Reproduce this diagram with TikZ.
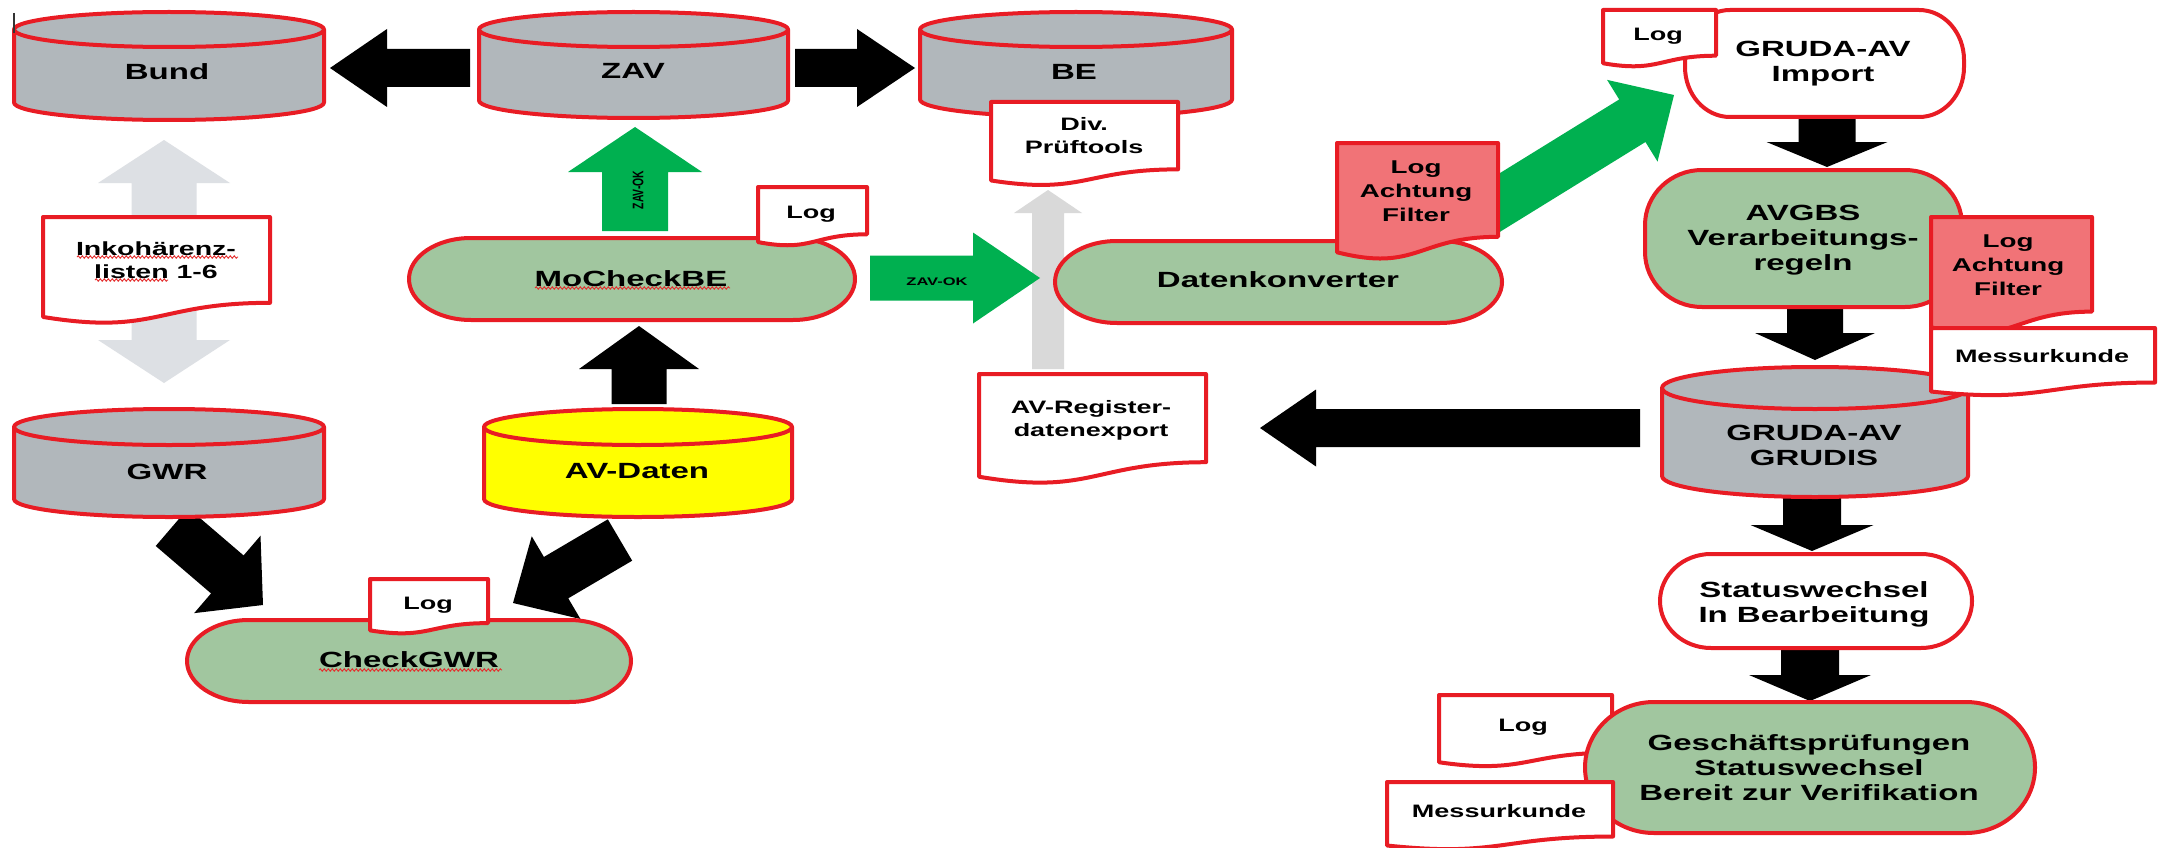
\documentclass[tikz,border=0pt]{standalone}
\usepackage{fontspec}
\setmainfont{Liberation Sans}[FakeStretch=1.5]
\newfontfamily\plainsans{Liberation Sans}
\usetikzlibrary{calc,decorations.pathmorphing}

\definecolor{redline}{RGB}{232,28,36}
\definecolor{cylgray}{RGB}{177,183,187}
\definecolor{termgreen}{RGB}{161,198,159}
\definecolor{arrowgreen}{RGB}{0,176,80}
\definecolor{pinkred}{RGB}{241,115,119}
\definecolor{lgrayA}{RGB}{221,224,228}
\definecolor{lgrayB}{RGB}{217,217,217}
\definecolor{avyellow}{RGB}{255,255,0}
\definecolor{squigred}{RGB}{228,45,45}

\tikzset{
  outl/.style={draw=redline, line width=4pt, line join=round},
  lab/.style={font=\bfseries\fontsize{22}{25}\selectfont, align=center, inner sep=0pt},
  doclab/.style={font=\bfseries\fontsize{18}{23}\selectfont, align=center, inner sep=0pt},
  squig/.style={draw=squigred, line width=0.9pt, decorate,
    decoration={snake, amplitude=1.2pt, segment length=4pt}},
}

% cylinder: fill, x1, x2, ytop, ybottom, ry
\newcommand{\mycyl}[6]{%
  \pgfmathsetmacro\cyrx{(#3-#2)/2}%
  \pgfmathsetmacro\cya{#4+#6}%
  \pgfmathsetmacro\cyb{#5-#6}%
  \filldraw[outl, fill=#1] (#2,\cya) -- (#2,\cyb)
    arc[start angle=180, end angle=0, x radius=\cyrx, y radius=#6]
    -- (#3,\cya)
    arc[start angle=0, end angle=-180, x radius=\cyrx, y radius=#6] -- cycle;
  \draw[outl] (#2,\cya) arc[start angle=180, end angle=0, x radius=\cyrx, y radius=#6];
}
% terminal: fill, x1, y1, x2, y2, rx, ry
\newcommand{\myterm}[7]{%
  \filldraw[outl, fill=#1] (#2+#6,#3) -- (#4-#6,#3)
    arc[start angle=-90, end angle=0, x radius=#6, y radius=#7]
    -- (#4,#5-#7)
    arc[start angle=0, end angle=90, x radius=#6, y radius=#7]
    -- (#2+#6,#5)
    arc[start angle=90, end angle=180, x radius=#6, y radius=#7]
    -- (#2,#3+#7)
    arc[start angle=180, end angle=270, x radius=#6, y radius=#7] -- cycle;
}
% document: fill, x1, y1, x2, h
\newcommand{\mydoc}[5]{%
  \pgfmathsetmacro\dxm{(#2+#4)/2}%
  \pgfmathsetmacro\dyr{#3+0.802*#5}%
  \pgfmathsetmacro\dyc{#3+1.1075*#5}%
  \pgfmathsetmacro\dyl{#3+0.934*#5}%
  \filldraw[outl, fill=#1] (#2,#3) -- (#4,#3) -- (#4,\dyr)
    .. controls (\dxm,\dyr) and (\dxm,\dyc) .. (#2,\dyl) -- cycle;
}
% block arrow: colour, from, to, shaft half width, head half width, head length
\newcommand{\myarrow}[6]{%
  \coordinate (bh) at ($(#3)!#6pt!(#2)$);
  \fill[#1] ($(#2)!#4pt!90:(#3)$) -- ($(bh)!#4pt!90:(#3)$) -- ($(bh)!#5pt!90:(#3)$)
    -- (#3) -- ($(bh)!#5pt!-90:(#3)$) -- ($(bh)!#4pt!-90:(#3)$)
    -- ($(#2)!#4pt!-90:(#3)$) -- cycle;
}
% double block arrow
\newcommand{\mydarrow}[6]{%
  \coordinate (bha) at ($(#3)!#6pt!(#2)$);
  \coordinate (bhb) at ($(#2)!#6pt!(#3)$);
  \fill[#1] (#2) -- ($(bhb)!#5pt!90:(#3)$) -- ($(bhb)!#4pt!90:(#3)$)
    -- ($(bha)!#4pt!90:(#3)$) -- ($(bha)!#5pt!90:(#3)$) -- (#3)
    -- ($(bha)!#5pt!-90:(#3)$) -- ($(bha)!#4pt!-90:(#3)$)
    -- ($(bhb)!#4pt!-90:(#3)$) -- ($(bhb)!#5pt!-90:(#3)$) -- cycle;
}

\begin{document}
\begin{tikzpicture}[x=1pt,y=1pt,yscale=-1]
\fill[white] (0,0) rectangle (2159,848);
\useasboundingbox (0,0) rectangle (2159,848);

% ---------- connector end points ----------
\coordinate (a1s) at (470,68);   \coordinate (a1e) at (330,68);
\coordinate (a2s) at (795,68);   \coordinate (a2e) at (915,68);
\coordinate (g1s) at (635,231);  \coordinate (g1e) at (635,127);
\coordinate (g2s) at (870,278);  \coordinate (g2e) at (1040,278);
\coordinate (r1s) at (1048,369); \coordinate (r1e) at (1048,190);
\coordinate (d1a) at (164,140);  \coordinate (d1b) at (164,383);
\coordinate (k1s) at (639,404);  \coordinate (k1e) at (639,326);
\coordinate (k2s) at (172,527);  \coordinate (k2e) at (263,605);
\coordinate (k3s) at (620,540);  \coordinate (k3e) at (513,603);
\coordinate (g3s) at (1478,216); \coordinate (g3e) at (1674,95);
\coordinate (k4s) at (1827,117); \coordinate (k4e) at (1827,167);
\coordinate (k5s) at (1815,307); \coordinate (k5e) at (1815,360);
\coordinate (k6s) at (1640,428); \coordinate (k6e) at (1260,428);
\coordinate (k7s) at (1812,497); \coordinate (k7e) at (1812,551);
\coordinate (k8s) at (1810,648); \coordinate (k8e) at (1810,701);

% ---------- block arrows ----------
\mydarrow{lgrayA}{d1a}{d1b}{32.5}{66}{43}
\myarrow{lgrayB}{r1s}{r1e}{16}{34}{23}
\myarrow{black}{a1s}{a1e}{19}{39}{57}
\myarrow{black}{a2s}{a2e}{19}{39}{58}
\myarrow{arrowgreen}{g1s}{g1e}{33}{67}{45}
\myarrow{arrowgreen}{g2s}{g2e}{22.5}{45.5}{67}
\myarrow{black}{k1s}{k1e}{27.5}{60}{43}
\myarrow{black}{k2s}{k2e}{25}{51}{47}
\myarrow{black}{k3s}{k3e}{24}{48}{50}
\myarrow{arrowgreen}{g3s}{g3e}{25}{48}{49}
\myarrow{black}{k4s}{k4e}{28.5}{60.5}{25}
\myarrow{black}{k5s}{k5e}{28}{60}{27}
\myarrow{black}{k6s}{k6e}{19}{38.5}{56}
\myarrow{black}{k7s}{k7e}{29}{61.5}{26}
\myarrow{black}{k8s}{k8e}{29}{61}{26}

% ---------- cylinders ----------
\mycyl{cylgray}{14}{324}{12}{120}{17.5}
\mycyl{cylgray}{479}{788}{12}{118}{17.5}
\mycyl{cylgray}{920}{1232}{12}{117}{17.5}
\mycyl{cylgray}{14}{324}{409}{517}{18}
\mycyl{avyellow}{484}{792}{409}{517}{18}
\mycyl{cylgray}{1662}{1968}{367}{497}{21}

% ---------- terminals ----------
\myterm{termgreen}{409}{238}{855}{320}{62}{41}
\myterm{termgreen}{187}{620}{631}{702}{62}{41}
\myterm{termgreen}{1055}{241}{1502}{323}{62}{41}
\myterm{white}{1685}{10}{1964}{117}{45}{50}
\myterm{termgreen}{1645}{170}{1962}{307}{57}{55}
\myterm{white}{1660}{554}{1972}{648}{51}{47}
\mydoc{white}{1439}{695}{1612}{72}
\myterm{termgreen}{1585}{702}{2035}{833}{69}{65.5}

% ---------- documents ----------
\mydoc{white}{43}{217}{270}{107}
\mydoc{white}{991}{102}{1178}{84}
\mydoc{white}{758}{187}{867}{59}
\mydoc{white}{370}{579}{488}{55}
\mydoc{pinkred}{1337}{143}{1498}{117}
\mydoc{white}{979}{374}{1206}{110}
\mydoc{white}{1603}{10}{1716}{57}
\mydoc{pinkred}{1931}{217}{2092}{118}
\mydoc{white}{1931}{328}{2155}{68}
\mydoc{white}{1387}{782}{1613}{68}

% text cursor mark
\draw[line width=1.2pt, black!80] (14,13) -- (14,33);

% ---------- labels ----------
\node[lab] (bund) at (167,72) {Bund};
\node[lab] (zav) at (633,71) {ZAV};
\node[lab] (be) at (1074,72) {BE};
\node[lab] (gwr) at (167,472) {GWR};
\node[lab] (avdaten) at (637,471) {AV-Daten};
\node[lab] (grudis) at (1814,445) {GRUDA-AV\\GRUDIS};
\node[lab] (mocheck) at (631,279) {MoCheckBE};
\node[lab] (checkgwr) at (409,660) {CheckGWR};
\node[lab] (datenk) at (1278,280) {Datenkonverter};
\node[lab] (import) at (1823,64) {GRUDA-AV\\Import};
\node[lab] (avgbs) at (1803,240) {AVGBS\\Verarbeitungs-\\regeln};
\node[lab] (status) at (1814,604) {Statuswechsel\\In Bearbeitung};
\node[lab] (gesch) at (1809,768) {Geschäftsprüfungen\\Statuswechsel\\Bereit zur Verifikation};

\node[doclab, font=\bfseries\fontsize{19}{23}\selectfont] (inko) at (156,260) {Inkohärenz-\\listen 1-6};
\node[doclab] (divpt) at (1084,136) {Div.\\Prüftools};
\node[doclab] (logmo) at (811,214) {Log};
\node[doclab] (loggwr) at (428,605) {Log};
\node[doclab, font=\bfseries\fontsize{18.5}{24}\selectfont] (achtA) at (1416,191) {Log\\Achtung\\Filter};
\node[doclab] (avreg) at (1091,420) {AV-Register-\\datenexport};
\node[doclab] (logimp) at (1658,36) {Log};
\node[doclab, font=\bfseries\fontsize{18.5}{24}\selectfont] (achtB) at (2008,265) {Log\\Achtung\\Filter};
\node[doclab] (messA) at (2042,356) {Messurkunde};
\node[doclab] (loggesch) at (1523,727) {Log};
\node[doclab] (messB) at (1499,811) {Messurkunde};

\node[font=\plainsans\bfseries\fontsize{10.4}{12}\selectfont, inner sep=0pt, rotate=90] (zavokA) at (638,190) {\scalebox{1}[1.47]{ZAV-OK}};
\node[font=\bfseries\fontsize{11}{12}\selectfont, inner sep=0pt] (zavokB) at (937,282) {ZAV-OK};

% ---------- spell-check squiggles ----------
\draw[squig] (535,288) -- (730,288);
\draw[squig] (319,670) -- (502,670);
\draw[squig] (77,257) -- (238,257);
\draw[squig] (95,280) -- (168,280);
\end{tikzpicture}
\end{document}
